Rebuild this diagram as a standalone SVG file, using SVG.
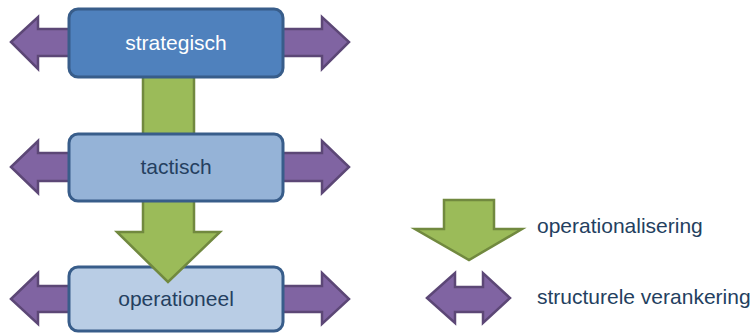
<svg xmlns="http://www.w3.org/2000/svg" width="753" height="333" viewBox="0 0 753 333">
<style>
.box{stroke:#385D8A;stroke-width:3}
.purple{fill:#8064A2;stroke:#5C4776;stroke-width:2.5;stroke-linejoin:miter}
.green{fill:#9BBB59;stroke:#71893F;stroke-width:2.5;stroke-linejoin:miter}
.t{font-family:"Liberation Sans",Arial,sans-serif;font-size:21px;text-anchor:middle}
.lt{font-family:"Liberation Sans",Arial,sans-serif;font-size:21px;fill:#243F60}
</style>
<rect width="753" height="333" fill="#ffffff"/>
<g id="connectors">
<polygon class="purple" points="11,42 38,17 38,29 322,29 322,17 349,42 322,69 322,56 38,56 38,69"/>
<polygon class="purple" points="11,167 38,141 38,153 322,153 322,141 349,167 322,193 322,181 38,181 38,193"/>
<polygon class="purple" points="11,299 38,273 38,286 322,286 322,273 349,299 322,324 322,312 38,312 38,324"/>
</g>
<g id="operationeel">
<rect class="box" x="69" y="267" width="214" height="64" rx="9" fill="#B9CDE5"/>
<text class="t" x="176" y="306" fill="#243F60">operationeel</text>
</g>
<g id="operationalisering-arrow">
<polygon class="green" points="143,70 194,70 194,232 220,232 168,282 117,232 143,232"/>
</g>
<g id="strategisch">
<rect class="box" x="69" y="9" width="214" height="68" rx="9" fill="#4F81BD"/>
<text class="t" x="176" y="50" fill="#ffffff">strategisch</text>
</g>
<g id="tactisch">
<rect class="box" x="69" y="134" width="214" height="67" rx="9" fill="#95B3D7"/>
<text class="t" x="176" y="174" fill="#243F60">tactisch</text>
</g>
<g id="legend-operationalisering">
<polygon class="green" points="444,200 494,200 494,229 522,229 469,260 415,229 444,229"/>
<text class="lt" x="537" y="233">operationalisering</text>
</g>
<g id="legend-structurele-verankering">
<polygon class="purple" points="427,298 455,273 455,287 483,287 483,273 510,298 483,323 483,312 455,312 455,323"/>
<text class="lt" x="537" y="304">structurele verankering</text>
</g>
</svg>
